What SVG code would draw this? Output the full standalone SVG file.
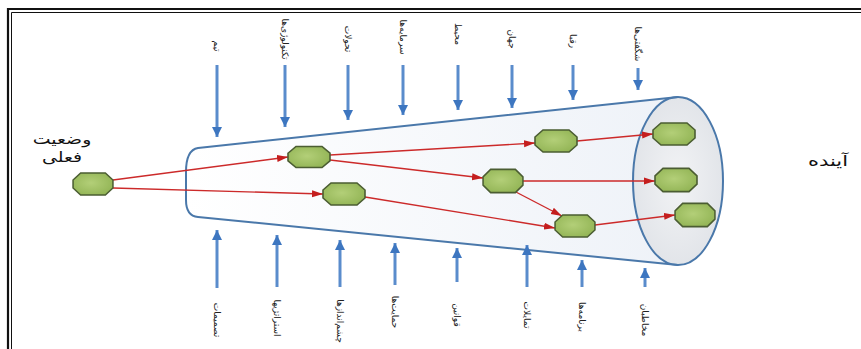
<svg xmlns="http://www.w3.org/2000/svg" xmlns:xlink="http://www.w3.org/1999/xlink" width="861" height="349" viewBox="0 0 861 349">
<style>
.lbl{font-family:"DejaVu Sans","Noto Sans",sans-serif;fill:#111;}
.vl{font-family:"DejaVu Sans","Noto Sans",sans-serif;font-size:9px;fill:#222;text-anchor:middle;dominant-baseline:central;}
.blue{stroke:#5a8ccc;stroke-width:3;fill:none;}
.red{stroke:#cc2a2a;stroke-width:1.4;fill:none;marker-end:url(#rh);}
.node{fill:url(#ng);stroke:#4b5d32;stroke-width:1.6;}
</style>
<defs>
<marker id="bh" markerUnits="userSpaceOnUse" markerWidth="12" markerHeight="10" refX="10" refY="5" orient="auto">
<path d="M0,0 L10,5 L0,10 z" fill="#3d76c0"/>
</marker>
<marker id="rh" markerUnits="userSpaceOnUse" markerWidth="12" markerHeight="8" refX="11" refY="4" orient="auto">
<path d="M0,0.5 L11,4 L0,7.5 z" fill="#c41e1e"/>
</marker>
<radialGradient id="ng" cx="0.45" cy="0.45" r="0.6">
<stop offset="0" stop-color="#b3cf78"/>
<stop offset="1" stop-color="#93b556"/>
</radialGradient>
<linearGradient id="fg" x1="0" y1="0" x2="1" y2="0">
<stop offset="0" stop-color="#ffffff"/>
<stop offset="1" stop-color="#eef2f8"/>
</linearGradient>
<radialGradient id="eg" cx="0.5" cy="0.5" r="0.6">
<stop offset="0" stop-color="#f2f3f5"/>
<stop offset="1" stop-color="#dfe2e7"/>
</radialGradient>
<path id="oct" d="M-21,-4 L-13,-11 L13,-11 L21,-4 L21,4 L13,11 L-13,11 L-21,4 z"/>
</defs>
<rect x="0" y="0" width="861" height="349" fill="#ffffff"/>
<!-- frame -->
<path d="M8,349 L8,9 L861,9" fill="none" stroke="#111" stroke-width="2.2"/>
<path d="M11.5,349 L11.5,12.5 L861,12.5" fill="none" stroke="#111" stroke-width="1"/>

<!-- funnel -->
<g id="funnel">
<path d="M678,97 L198,148 Q186,150 186,172 L186,200 Q186,216 198,217 L678,265 Z" fill="url(#fg)" stroke="none"/>
<ellipse cx="678" cy="181" rx="45" ry="84" fill="url(#eg)" stroke="#4a78aa" stroke-width="2"/>
<path d="M678,97 L198,148 Q186,150 186,172 L186,200 Q186,216 198,217 L678,265" fill="none" stroke="#4a78aa" stroke-width="2"/>
</g>

<!-- connectors -->
<g id="connectors">
<line class="red" x1="113" y1="180" x2="288" y2="157"/>
<line class="red" x1="113" y1="188" x2="323" y2="194"/>
<line class="red" x1="330" y1="155" x2="535" y2="143"/>
<line class="red" x1="330" y1="160" x2="483" y2="178"/>
<line class="red" x1="577" y1="141" x2="653" y2="134"/>
<line class="red" x1="523" y1="181" x2="655" y2="181"/>
<line class="red" x1="514" y1="191" x2="562" y2="216"/>
<line class="red" x1="365" y1="197" x2="555" y2="228"/>
<line class="red" x1="595" y1="225" x2="675" y2="215"/>
</g>

<!-- top arrows -->
<g id="top-arrows">
<line class="blue" x1="217" y1="65" x2="217" y2="137" marker-end="url(#bh)"/>
<line class="blue" x1="285" y1="65" x2="285" y2="127" marker-end="url(#bh)"/>
<line class="blue" x1="348" y1="65" x2="348" y2="120" marker-end="url(#bh)"/>
<line class="blue" x1="403" y1="65" x2="403" y2="115" marker-end="url(#bh)"/>
<line class="blue" x1="458" y1="65" x2="458" y2="110" marker-end="url(#bh)"/>
<line class="blue" x1="512" y1="65" x2="512" y2="108" marker-end="url(#bh)"/>
<line class="blue" x1="573" y1="65" x2="573" y2="100" marker-end="url(#bh)"/>
<line class="blue" x1="638" y1="68" x2="638" y2="90" marker-end="url(#bh)"/>
</g>
<!-- bottom arrows -->
<g id="bottom-arrows">
<line class="blue" x1="217" y1="288" x2="217" y2="230" marker-end="url(#bh)"/>
<line class="blue" x1="277" y1="287" x2="277" y2="235" marker-end="url(#bh)"/>
<line class="blue" x1="340" y1="287" x2="340" y2="240" marker-end="url(#bh)"/>
<line class="blue" x1="395" y1="285" x2="395" y2="243" marker-end="url(#bh)"/>
<line class="blue" x1="457" y1="282" x2="457" y2="248" marker-end="url(#bh)"/>
<line class="blue" x1="527" y1="287" x2="527" y2="245" marker-end="url(#bh)"/>
<line class="blue" x1="582" y1="287" x2="582" y2="260" marker-end="url(#bh)"/>
<line class="blue" x1="645" y1="287" x2="645" y2="268" marker-end="url(#bh)"/>
</g>

<!-- nodes -->
<g id="n-present"><use xlink:href="#oct" class="node" transform="translate(93,184) scale(0.95,1)"/></g>
<g id="n1"><use xlink:href="#oct" class="node" transform="translate(309,157) scale(1,0.95)"/></g>
<g id="n2"><use xlink:href="#oct" class="node" transform="translate(344,194)"/></g>
<g id="n3"><use xlink:href="#oct" class="node" transform="translate(556,141)"/></g>
<g id="n4"><use xlink:href="#oct" class="node" transform="translate(503,181) scale(0.95,1.05)"/></g>
<g id="n5"><use xlink:href="#oct" class="node" transform="translate(575,226) scale(0.95,1)"/></g>
<g id="f1"><use xlink:href="#oct" class="node" transform="translate(674,134)"/></g>
<g id="f2"><use xlink:href="#oct" class="node" transform="translate(676,180) scale(1,1.05)"/></g>
<g id="f3"><use xlink:href="#oct" class="node" transform="translate(695,215) scale(0.95,1.05)"/></g>

<!-- main labels -->
<g id="label-present">
<text class="lbl" font-size="14" text-anchor="middle" direction="rtl" transform="translate(62,144) scale(1.35,1)">وضعیت</text>
<text class="lbl" font-size="14" text-anchor="middle" direction="rtl" transform="translate(62,162) scale(1.35,1)">فعلی</text>
</g>
<g id="label-future">
<text class="lbl" font-size="15" text-anchor="middle" direction="rtl" transform="translate(828,166) scale(1.4,1)">آینده</text>
</g>

<!-- top labels -->
<g id="top-labels">
<text class="vl" transform="translate(217,46) rotate(90)">تیم</text>
<text class="vl" transform="translate(285,39) rotate(90)">تکنولوژی‌ها</text>
<text class="vl" transform="translate(348,39) rotate(90)">تحولات</text>
<text class="vl" transform="translate(403,37) rotate(90)">سرمایه‌ها</text>
<text class="vl" transform="translate(458,34) rotate(90)">محیط</text>
<text class="vl" transform="translate(512,39) rotate(90)">جهان</text>
<text class="vl" transform="translate(573,41) rotate(90)">رقبا</text>
<text class="vl" transform="translate(638,44) rotate(90)">شگفتی‌ها</text>
</g>
<!-- bottom labels -->
<g id="bottom-labels">
<text class="vl" transform="translate(217,320) rotate(90)">تصمیمات</text>
<text class="vl" transform="translate(277,318) rotate(90)">استراتژیها</text>
<text class="vl" transform="translate(340,321) rotate(90)">چشم‌اندازها</text>
<text class="vl" transform="translate(395,312) rotate(90)">حمایت‌ها</text>
<text class="vl" transform="translate(457,315) rotate(90)">قوانین</text>
<text class="vl" transform="translate(527,315) rotate(90)">تمایلات</text>
<text class="vl" transform="translate(582,317) rotate(90)">برنامه‌ها</text>
<text class="vl" transform="translate(645,320) rotate(90)">مخاطبان</text>
</g>
</svg>
